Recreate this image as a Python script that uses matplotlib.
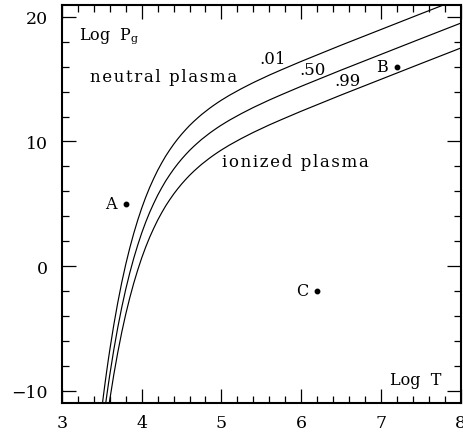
import matplotlib
matplotlib.use("Agg")
import matplotlib.pyplot as plt
from matplotlib.ticker import MultipleLocator

plt.rcParams["font.family"] = ["DejaVu Serif"]
plt.rcParams["mathtext.fontset"] = "dejavuserif"

# Log T sample points along the ionization-fraction curves
log_t = [3.48, 3.50, 3.52, 3.54, 3.56, 3.58, 3.60, 3.65, 3.70, 3.75, 3.80,
         3.85, 3.90, 3.95, 4.00, 4.05, 4.10, 4.15, 4.20, 4.25, 4.30, 4.35,
         4.40, 4.45, 4.50, 4.55, 4.60, 4.65, 4.70, 4.75, 4.80, 4.85, 4.90,
         4.95, 5.00, 5.10, 5.25, 5.40, 5.50, 5.60, 5.75, 6.00, 6.50, 7.00,
         7.50, 8.00]

# Log Pg for ionization fraction 0.50
logp_50 = [-14.50, -13.43, -12.40, -11.42, -10.48, -9.58, -8.72, -6.72,
           -4.93, -3.31, -1.86, -0.56, 0.62, 1.68, 2.65, 3.52, 4.31, 5.02,
           5.68, 6.27, 6.82, 7.31, 7.77, 8.19, 8.58, 8.94, 9.28, 9.59, 9.88,
           10.16, 10.41, 10.66, 10.89, 11.11, 11.32, 11.71, 12.24, 12.73,
           13.03, 13.33, 13.75, 14.43, 15.73, 16.99, 18.25, 19.50]

# Log Pg for ionization fraction 0.01
logp_01 = [-12.50, -11.43, -10.40, -9.42, -8.48, -7.58, -6.72, -4.72,
           -2.93, -1.31, 0.14, 1.44, 2.62, 3.68, 4.65, 5.52, 6.31, 7.02,
           7.68, 8.27, 8.82, 9.31, 9.77, 10.19, 10.58, 10.94, 11.28, 11.59,
           11.88, 12.16, 12.41, 12.66, 12.89, 13.11, 13.32, 13.71, 14.24,
           14.73, 15.03, 15.33, 15.75, 16.43, 17.73, 18.99, 20.25, 21.50]

# Log Pg for ionization fraction 0.99
logp_99 = [-16.50, -15.43, -14.40, -13.42, -12.48, -11.58, -10.72, -8.72,
           -6.93, -5.31, -3.86, -2.56, -1.38, -0.32, 0.65, 1.52, 2.31, 3.02,
           3.68, 4.27, 4.82, 5.31, 5.77, 6.19, 6.58, 6.94, 7.28, 7.59, 7.88,
           8.16, 8.41, 8.66, 8.89, 9.11, 9.32, 9.71, 10.24, 10.73, 11.03,
           11.33, 11.75, 12.43, 13.73, 14.99, 16.25, 17.50]

# Example states
point_names = ["A", "B", "C"]
point_logt = [3.8, 7.2, 6.2]
point_logp = [5.0, 16.0, -2.0]

HAIR = "\u200a"


def spaced(s):
    """Open up the letter spacing a little with hair spaces."""
    return HAIR.join(s)


fig = plt.figure(figsize=(4.64, 4.35), dpi=100)
ax = fig.add_axes([0.1336, 0.0713, 0.859, 0.916])

for ys in (logp_01, logp_50, logp_99):
    ax.plot(log_t, ys, color="black", lw=0.85)

ax.plot(point_logt, point_logp, "o", color="black", ms=3.2)
for name, x, y in zip(point_names, point_logt, point_logp):
    ax.text(x - 0.11, y, name, ha="right", va="center", fontsize=11.5)

ax.set_xlim(3, 8)
ax.set_ylim(-11, 21)

ax.xaxis.set_major_locator(MultipleLocator(1))
ax.xaxis.set_minor_locator(MultipleLocator(0.2))
ax.yaxis.set_major_locator(MultipleLocator(10))
ax.yaxis.set_minor_locator(MultipleLocator(2))
ax.tick_params(which="both", direction="in", top=True, right=True,
               width=0.9, labelsize=12.5)
ax.tick_params(which="major", length=10)
ax.tick_params(which="minor", length=5)
ax.tick_params(axis="x", pad=8)
ax.tick_params(axis="y", pad=10)
for sp in ax.spines.values():
    sp.set_linewidth(1.5)

# In-plot annotations
ax.text(3.21, 18.55, r"Log  P$_{\mathrm{g}}$", ha="left", va="center",
        fontsize=11.5)
ax.text(7.755, -9.08, "Log  T", ha="right", va="center", fontsize=11.5)
ax.text(3.35, 15.18, spaced("neutral plasma"), ha="left", va="center",
        fontsize=12)
ax.text(5.01, 8.43, spaced("ionized plasma"), ha="left", va="center",
        fontsize=12)
ax.text(5.64, 16.7, ".01", ha="center", va="center", fontsize=12)
ax.text(6.145, 15.82, ".50", ha="center", va="center", fontsize=12)
ax.text(6.585, 14.86, ".99", ha="center", va="center", fontsize=12)

fig.savefig("out.png", dpi=100)
